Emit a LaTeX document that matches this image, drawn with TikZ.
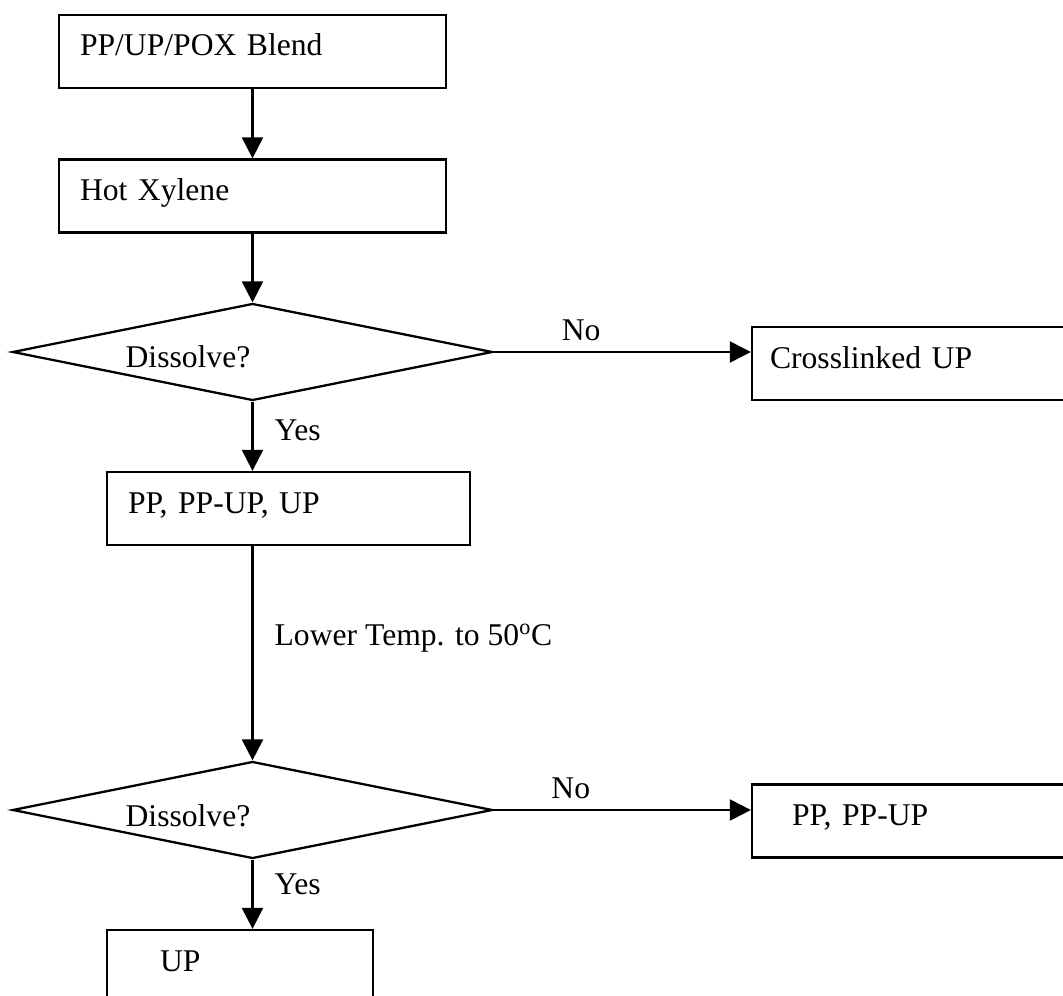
\documentclass[tikz,border=0pt]{standalone}
\usepackage{fontspec}
\setmainfont{Liberation Serif}
\usetikzlibrary{shapes.geometric,arrows.meta}

\tikzset{
  box/.style={draw, line width=1.3pt, minimum height=1.46cm, align=left,
    text height=0.38cm, text depth=0.2cm},
  query/.style={draw, diamond, line width=1.3pt, minimum width=9.6cm,
    minimum height=1.94cm, inner sep=0pt},
  qtext/.style={xshift=-1.29cm, yshift=-0.23cm, inner sep=0pt,
    text height=0.38cm, text depth=0.2cm},
  lbl/.style={inner sep=0.2cm},
  flow/.style={->, line width=1.3pt}
}

\begin{document}
\begin{tikzpicture}[font=\fontsize{18}{22}\selectfont,
  >={Triangle[length=0.42cm,width=0.42cm]}]
\useasboundingbox (0,0) rectangle (21.26,-19.92);
\clip (0,0) rectangle (21.26,-19.92);

\node[box, text width=6.9cm, inner xsep=0.42cm] (blend) at (5.05,-1.03) {PP/UP/POX Blend};
\node[box, text width=6.9cm, inner xsep=0.42cm] (xylene) at (5.05,-3.92) {Hot Xylene};
\node[query, label={[qtext]center:Dissolve?}] (q1) at (5.05,-7.04) {};
\node[box, text width=7cm, inner xsep=0.36cm] (cross) at (18.9,-7.27) {Crosslinked UP};
\node[box, text width=6.42cm, inner xsep=0.42cm] (mix) at (5.77,-10.17) {PP, PP-UP, UP};
\node[query, label={[qtext]center:Dissolve?}] (q2) at (5.05,-16.2) {};
\node[box, text width=6.2cm, inner xsep=0.8cm] (rest) at (18.94,-16.42) {PP, PP-UP};
\node[box, text width=3.2cm, inner xsep=1.06cm] (up) at (4.8,-19.33) {UP};

\draw[flow] (blend) -- (xylene);
\draw[flow] (xylene) -- (q1);
\draw[flow] (q1.east) -- node[lbl, above, pos=0.34] (no1) {No} (q1.east -| cross.west);
\draw[flow] (q1.south) -- node[lbl, right, xshift=0.22cm, pos=0.42] (yes1) {Yes} (q1.south |- mix.north);
\draw[flow] (q2.north |- mix.south) -- node[lbl, right, xshift=0.22cm, pos=0.43] (cool) {Lower Temp. to 50\textsuperscript{o}C} (q2.north);
\draw[flow] (q2.east) -- node[lbl, above, pos=0.3] (no2) {No} (q2.east -| rest.west);
\draw[flow] (q2.south) -- node[lbl, right, xshift=0.22cm, pos=0.36] (yes2) {Yes} (q2.south |- up.north);
\end{tikzpicture}
\end{document}
